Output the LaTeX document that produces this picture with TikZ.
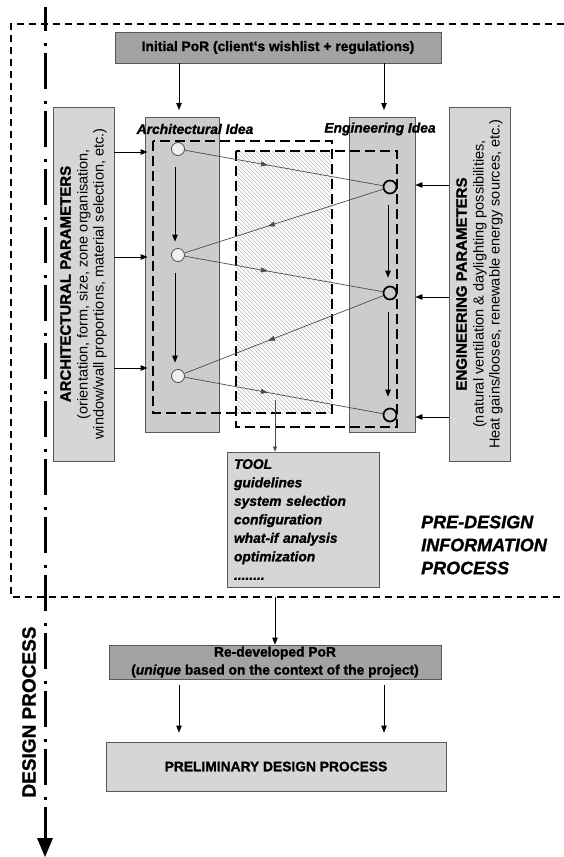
\documentclass[tikz,border=0pt]{standalone}
\usepackage{fontspec}
\setmainfont{Liberation Sans}[BoldFeatures={FakeBold=1.2},BoldItalicFeatures={FakeBold=1.2}]
\usetikzlibrary{arrows.meta,decorations.markings}
\definecolor{boxdark}{gray}{0.64}
\definecolor{boxlight}{gray}{0.84}
\definecolor{colfill}{gray}{0.80}
\definecolor{outl}{gray}{0.35}
\definecolor{linkc}{gray}{0.30}
\definecolor{hatchc}{gray}{0.72}
\begin{document}
\begin{tikzpicture}[x=1pt,y=-1pt,
  box/.style={draw=outl, line width=0.8pt, inner sep=0pt, align=center},
  bodyfont/.style={font=\fontsize{13.8}{17}\selectfont\bfseries},
  arr/.style={-{Triangle[length=7pt,width=5.5pt]}, line width=0.8pt},
  tarr/.style={-{Triangle[length=5pt,width=4pt]}, line width=0.6pt, draw=linkc},
  link/.style={draw=linkc, line width=0.7pt, postaction={decorate},
    decoration={markings, mark=at position #1 with {\arrow{Triangle[length=7pt,width=5pt]}}}},
  acirc/.style={circle, draw=gray!60!black, fill=gray!12, line width=0.8pt, minimum size=13pt, inner sep=0pt},
  ecirc/.style={circle, draw=black, line width=1.7pt, minimum size=13pt, inner sep=0pt},
  dashbox/.style={draw=black, line width=2pt, dash pattern=on 10pt off 5pt},
  outerdash/.style={draw=black, line width=1.3pt, dash pattern=on 7pt off 5pt},
  parbox/.style={box, fill=boxlight, rotate=90, minimum width=354pt, minimum height=61pt,
    font=\fontsize{14.5}{16}\selectfont}
]
\useasboundingbox (0,0) rectangle (564,857);

% outer dashed frame
\draw[outerdash] (564,24) -- (11,24) -- (11,597) -- (564,597);

% design process axis
\draw[line width=3pt, dash pattern=on 36pt off 12pt on 3pt off 7pt, dash phase=12pt] (45,7) -- (45,839);
\fill (37,838) -- (53,838) -- (45,857) -- cycle;
\node[rotate=90, font=\fontsize{19}{21}\selectfont\bfseries, inner sep=0pt] (dp) at (29,712) {DESIGN PROCESS};

% top box
\node[box, bodyfont, fill=boxdark, minimum width=326pt, minimum height=31pt] (ipor) at (278,47.5)
  {Initial PoR (client`s wishlist + regulations)};

% columns
\node[box, fill=colfill, minimum width=74pt, minimum height=315pt] (acol) at (182,274.5) {};
\node[box, fill=colfill, minimum width=66pt, minimum height=315pt] (ecol) at (382,274.5) {};

% parameter boxes
\node[parbox] (ap) at (83.5,284)
  {{\fontsize{15}{17}\selectfont\bfseries ARCHITECTURAL PARAMETERS}\\[1pt]
   (orientation, form, size, zone organisation,\\
   window/wall proportions, material selection, etc.)};
\node[parbox] (ep) at (479.5,284)
  {{\fontsize{15}{17}\selectfont\bfseries ENGINEERING PARAMETERS}\\[1pt]
   (natural ventilation \& daylighting possibilities,\\
   Heat gains/looses, renewable energy sources, etc.)};

% hatched region
\begin{scope}
  \clip (236,151) rectangle (332,413);
  \fill[white] (236,151) rectangle (332,413);
  \foreach \i in {-284,-280,...,100}
    \draw[hatchc, line width=0.6pt] (236+\i,151) -- ++(280,280);
\end{scope}

% dashed frames
\draw[dashbox] (153,141) rectangle (332,413);
\draw[dashbox] (236,151) rectangle (397,427);

% labels
\node[font=\fontsize{13.8}{16}\selectfont\bfseries\itshape, inner sep=0pt] (alab) at (195,129) {Architectural Idea};
\node[font=\fontsize{13.8}{16}\selectfont\bfseries\itshape, inner sep=0pt] (elab) at (380,129) {Engineering Idea};

% arrows from the top box
\coordinate (at) at (179,110);
\coordinate (et) at (384,110);
\draw[arr] (ipor.south -| at) -- (at);
\draw[arr] (ipor.south -| et) -- (et);

% circles
\node[acirc] (a1) at (178,149) {};
\node[acirc] (a2) at (178,255) {};
\node[acirc] (a3) at (178,376) {};
\node[ecirc] (e1) at (390,187) {};
\node[ecirc] (e2) at (390,293) {};
\node[ecirc] (e3) at (390,415) {};

% zig-zag links
\draw[link=0.42] (a1) -- (e1);
\draw[link=0.58] (e1) -- (a2);
\draw[link=0.42] (a2) -- (e2);
\draw[link=0.58] (e2) -- (a3);
\draw[link=0.42] (a3) -- (e3);

% vertical arrows inside the columns
\draw[arr, shorten <=11.5pt, shorten >=6.5pt] ([xshift=-3pt]a1.south) -- ([xshift=-3pt]a2.north);
\draw[arr, shorten <=11.5pt, shorten >=6.5pt] ([xshift=-3pt]a2.south) -- ([xshift=-3pt]a3.north);
\draw[arr, shorten <=11pt, shorten >=8pt] ([xshift=-2pt]e1.south) -- ([xshift=-2pt]e2.north);
\draw[arr, shorten <=12pt, shorten >=11pt] ([xshift=-2pt]e2.south) -- ([xshift=-2pt]e3.north);

% arrows from parameter boxes
\draw[arr] (ap.south |- 0,152) -- ([xshift=3pt]acol.west |- 0,152);
\draw[arr] (ap.south |- 0,257) -- ([xshift=3pt]acol.west |- 0,257);
\draw[arr] (ap.south |- 0,368) -- ([xshift=3pt]acol.west |- 0,368);
\draw[arr] (ep.north |- 0,185) -- (ecol.east |- 0,185);
\draw[arr] (ep.north |- 0,297) -- (ecol.east |- 0,297);
\draw[arr] (ep.north |- 0,417) -- (ecol.east |- 0,417);

% tool box
\node[box, fill=boxlight, text width=138pt, inner xsep=7pt, minimum height=135pt, align=left,
      font=\fontsize{13.8}{18.5}\selectfont\bfseries\itshape] (tool) at (303,519.5)
  {TOOL\\guidelines\\system selection\\configuration\\what-if analysis\\optimization\\........};
\coordinate (hb) at (275,400);
\draw[tarr] (hb) -- (tool.north -| hb);

% pre-design label
\node[anchor=west, align=left, inner sep=0pt, font=\fontsize{18}{23}\selectfont\bfseries\itshape] (pdl) at (421,545)
  {PRE-DESIGN\\INFORMATION\\PROCESS};

% lower part
\node[box, fill=boxdark, minimum width=332pt, minimum height=34pt,
      font=\fontsize{13.8}{18}\selectfont\bfseries] (redev) at (275,662)
  {Re-developed PoR\\(\textit{unique} based on the context of the project)};
\coordinate (dz) at (275,597);
\draw[arr] (dz) -- (redev.north -| dz);

\node[box, fill=boxlight, minimum width=340pt, minimum height=49pt,
      font=\fontsize{13.8}{16}\selectfont\bfseries] (prelim) at (276,766.5) {PRELIMINARY DESIGN PROCESS};
\draw[arr, shorten <=6pt, shorten >=9pt] (redev.south -| at) -- (prelim.north -| at);
\draw[arr, shorten <=6pt, shorten >=9pt] (redev.south -| et) -- (prelim.north -| et);
\end{tikzpicture}
\end{document}
